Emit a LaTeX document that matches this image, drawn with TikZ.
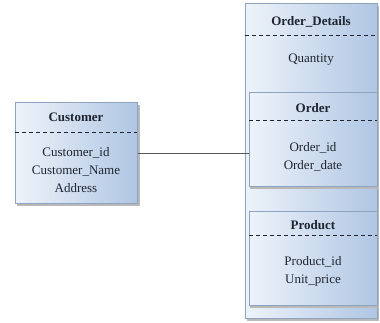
\documentclass[tikz,border=0pt]{standalone}
\usepackage{fontspec}
\setmainfont{Liberation Serif}
\definecolor{boxL}{HTML}{EEF3FA}
\definecolor{boxR}{HTML}{AFC6E3}
\definecolor{boxB}{HTML}{8EA3BE}
\definecolor{txt}{HTML}{1E2530}
\tikzset{
  x=1pt, y=-1pt,
  ent/.style={rectangle, draw=boxB, line width=0.6pt, left color=boxL, right color=boxR, inner sep=0pt, anchor=north west},
  shad/.style={fill=gray!55, draw=none},
  dsh/.style={draw=txt, line width=1pt, dash pattern=on 4pt off 3pt},
  hd/.style={font=\fontsize{13}{15}\selectfont\bfseries, text=txt},
  bd/.style={font=\fontsize{13}{18}\selectfont, text=txt, align=center},
  conn/.style={draw=gray!70!black, line width=1pt}
}
\begin{document}
\begin{tikzpicture}
\useasboundingbox (0,0) rectangle (380,322);
% shadows
\fill[shad] (17,105) rectangle (140,206);
\fill[shad] (247,6) rectangle (379,321);
% Customer
\node[ent, minimum width=122pt, minimum height=101pt] (customer) at (15,102) {};
\node[hd] (custh) at (76,117) {Customer};
\draw[dsh] (15,132) -- (137,132);
\node[bd] (custb) at (76,170) {Customer\_id\\Customer\_Name\\Address};
% Order_Details
\node[ent, minimum width=132pt, minimum height=315pt] (details) at (245,3) {};
\node[hd] (deth) at (311,22) {Order\_Details};
\draw[dsh] (245,35) -- (377,35);
\node[bd] (detb) at (311,60) {Quantity};
% Order
\fill[shad] (250,95) rectangle (378,189);
\node[ent, minimum width=128pt, minimum height=94pt] (order) at (249,92) {};
\node[hd] (ordh) at (313,108) {Order};
\draw[dsh] (249,120) -- (377,120);
\node[bd] (ordb) at (313,157) {Order\_id\\Order\_date};
% Product
\fill[shad] (250,214) rectangle (378,308);
\node[ent, minimum width=128pt, minimum height=94pt] (product) at (249,211) {};
\node[hd] (prodh) at (313,225) {Product};
\draw[dsh] (249,235) -- (377,235);
\node[bd] (prodb) at (313,271) {Product\_id\\Unit\_price};
% connector
\draw[conn] (customer.east |- 0,153) -- (order.west |- 0,153);
\end{tikzpicture}
\end{document}
